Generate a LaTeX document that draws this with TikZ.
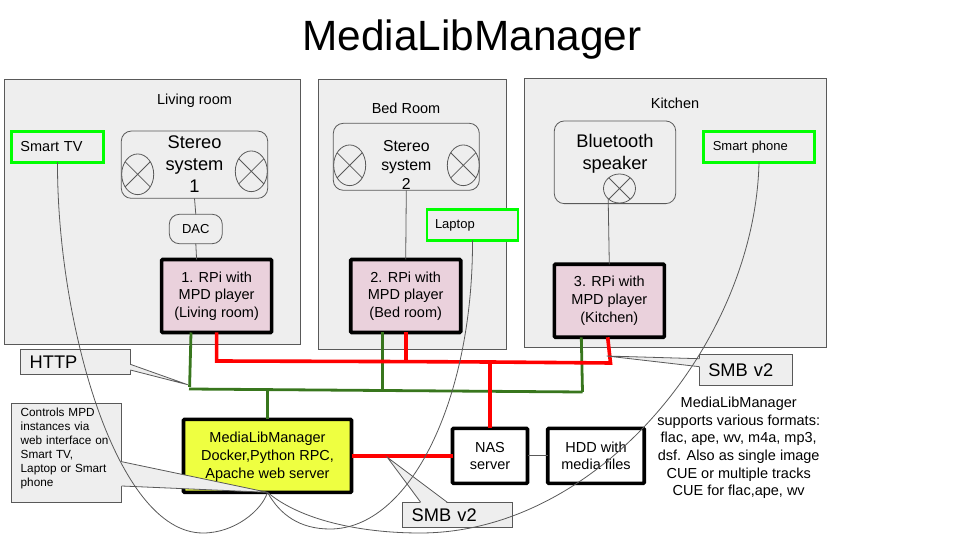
\documentclass[tikz,border=0pt]{standalone}
\usepackage{fontspec}
\setmainfont{Liberation Sans}
\usetikzlibrary{calc,shapes.geometric}
\definecolor{roomgray}{HTML}{EEEEEE}
\definecolor{edgegray}{HTML}{595959}
\definecolor{rpipink}{HTML}{EAD1DC}
\definecolor{mlyellow}{HTML}{EEFF41}
\definecolor{httpgreen}{HTML}{38761D}
\definecolor{devgreen}{HTML}{00FF00}
\def\px{0.02cm}
\begin{document}
\begin{tikzpicture}[x=0.02cm,y=-0.02cm,outer sep=0pt,
    boxsize/.style 2 args={minimum width=#1*\px,minimum height=#2*\px},
    textS/.style={font=\fontsize{6.7}{8}\selectfont},
    textM/.style={font=\fontsize{7.4}{9}\selectfont},
    textN/.style={font=\fontsize{8.25}{10}\selectfont},
    textP/.style={font=\fontsize{9}{10.8}\selectfont},
    textL/.style={font=\fontsize{10.4}{12.5}\selectfont},
    room/.style={draw=edgegray,fill=roomgray,line width=1*\px,inner sep=0pt},
    player/.style={draw=black,fill=rpipink,line width=3.6*\px,rounded corners=0.6pt,align=center,textN,inner sep=0pt},
    rounded/.style={draw=edgegray,line width=0.8*\px,rounded corners=10*\px,inner sep=0pt,align=center},
    speaker/.style={draw=edgegray,ellipse,line width=0.8*\px,inner sep=0pt},
    device/.style={draw=devgreen,fill=roomgray,line width=2.8*\px,inner ysep=0pt,inner xsep=9*\px,align=left},
    callbox/.style={draw=edgegray,fill=roomgray,line width=0.9*\px,inner ysep=0pt,inner xsep=9*\px,align=left},
    wire/.style={draw=edgegray,line width=0.8*\px},
    httpline/.style={draw=httpgreen,line width=2.8*\px},
    smbline/.style={draw=red,line width=3.6*\px}]
    \useasboundingbox (0,0) rectangle (960,540);
    \node[font=\fontsize{24.1}{28}\selectfont] (title) at (472,40) {MediaLibManager};

    \node[room,boxsize={296}{265}] (roomA) at (152.3,211.8) {};
    \node[room,boxsize={188}{270}] (roomB) at (412.3,214.3) {};
    \node[room,boxsize={302}{269}] (roomC) at (675.3,212.8) {};
    \node[textN] (roomAname) at (194.5,100.5) {Living room};
    \node[textN] (roomBname) at (406,108) {Bed Room};
    \node[textN] (roomCname) at (675,103) {Kitchen};

    \node[rounded,boxsize={146.4}{67.3}] (stereoA) at (194.5,164.7) {};
    \node[textL,align=center] (stereoAname) at (194.5,163.7) {Stereo\\system\\1};
    \node[rounded,boxsize={146}{67}] (stereoB) at (406.3,156.8) {};
    \node[textP,align=center] (stereoBname) at (406.3,165) {Stereo\\system\\2};
    \node[rounded,boxsize={121.4}{82.7}] (btspeaker) at (615,162.3) {};
    \node[textL,align=center] (btname) at (615,154) {Bluetooth\\speaker};
    \node[rounded,textM,boxsize={53}{29.4}] (dac) at (195.8,229) {DAC};

    \node[speaker,boxsize={32}{40.7}] (spkA) at (137.7,174.3) {};
    \node[speaker,boxsize={32}{40.7}] (spkB) at (251.3,171.3) {};
    \node[speaker,boxsize={32}{40.7}] (spkC) at (349.7,165.3) {};
    \node[speaker,boxsize={32}{40.7}] (spkD) at (463.3,165.3) {};
    \node[speaker,boxsize={32}{29}] (spkE) at (619.5,188.5) {};
    \foreach \n in {spkA,spkB,spkC,spkD,spkE}
        \draw[wire] (\n.45) -- (\n.225) (\n.135) -- (\n.315);

    \node[player,boxsize={110}{73}] (rpiA) at (216.6,296) {1. RPi with\\MPD player\\(Living room)};
    \node[player,boxsize={110}{73}] (rpiB) at (405.7,296) {2. RPi with\\MPD player\\(Bed room)};
    \node[player,boxsize={110}{73}] (rpiC) at (609.3,300.8) {3. RPi with\\MPD player\\(Kitchen)};
    \node[player,fill=mlyellow,boxsize={168}{73}] (mlib) at (267.5,455.8) {};
    \node[textN,align=center] (mlibname) at (267.5,456.8) {MediaLibManager\\Docker,Python RPC,\\Apache web server};
    \node[player,fill=white,boxsize={75}{55}] (nas) at (490,455.8) {NAS\\server};
    \node[player,fill=white,boxsize={96.5}{55}] (hdd) at (596,455.8) {HDD with\\media files};

    \node[device,textN,boxsize={92}{31},text width=74*\px] (tv) at (57.5,147) {Smart TV};
    \node[device,inner xsep=8*\px,textM,boxsize={91}{31},text width=75*\px] (laptop) at (472.5,225) {\raisebox{-0.5pt}{Laptop}};
    \node[device,textM,boxsize={110.5}{31},text width=92.5*\px] (phone) at (759,147) {Smart phone};

    \draw[wire] (stereoA.south) -- (dac.north);
    \draw[wire] (dac.south) -- ($(rpiA.north)+(-20,0)$);
    \draw[wire] (stereoB.south) -- (rpiB.north);
    \draw[wire] (spkE.south west) -- (rpiC.north);
    \draw[wire] (nas.east) -- (hdd.west);

    \coordinate (httpL) at (189,389);
    \coordinate (httpM) at (267.5,389.6);
    \coordinate (httpN) at (382.3,390.5);
    \coordinate (httpR) at (582.5,392);
    \coordinate (smbL) at (216.6,361);
    \coordinate (smbN) at (405.7,361.6);
    \coordinate (smbM) at (490,362);
    \coordinate (smbR) at (610.5,363);
    \draw[httpline] ($(rpiA.south)+(-25.6,0)$) -- (189.6,387);
    \draw[httpline] (httpL) -- (httpN) -- (httpR);
    \draw[httpline] ($(rpiB.south)+(-23.4,0)$) -- (httpN);
    \draw[httpline] ($(rpiC.south)+(-28,0)$) -- (httpR);
    \draw[httpline] (mlib.north) -- (httpM);
    \draw[smbline] (rpiA.south) -- (smbL) -- (smbN) -- (smbM) -- (smbR) -- ($(rpiC.south)+(-1.6,0)$);
    \draw[smbline] (rpiB.south) -- (smbN);
    \draw[smbline] (nas.north) -- (smbM);
    \draw[smbline] (mlib.east) -- (nas.west);

    \node[callbox,font=\fontsize{10.4}{12.5}\selectfont,boxsize={109.6}{25},text width=91.6*\px] (httpBox) at (75.5,361.8) {HTTP};
    \node[callbox,boxsize={110}{99}] (ctrlBox) at (66.7,452.8) {};
    \node[callbox,font=\fontsize{10.4}{12.5}\selectfont,boxsize={109.6}{25},text width=91.6*\px] (smbLow) at (457.5,514.8) {\raisebox{-0.5pt}{SMB v2}};
    \node[callbox,font=\fontsize{10.4}{12.5}\selectfont,boxsize={93.4}{31},text width=75.4*\px] (smbUp) at (746,369.8) {SMB v2};
    \coordinate (httpTip) at (187.7,384.7);
    \coordinate (smbLowTip) at (387.3,457.3);
    \coordinate (smbUpTip) at (606.7,356);

    \fill[roomgray] ($(httpBox.north east)+(-1,15)$) -- (httpTip) -- ($(httpBox.north east)+(-1,20.7)$) -- cycle;
    \draw[wire] ($(httpBox.north east)+(0,15)$) -- (httpTip) -- ($(httpBox.north east)+(0,20.7)$);
    \fill[roomgray] ($(ctrlBox.north east)+(-1,58.4)$) -- (mlib.south) -- ($(ctrlBox.north east)+(-1,82.7)$) -- cycle;
    \draw[wire] ($(ctrlBox.north east)+(0,58.4)$) -- (mlib.south) -- ($(ctrlBox.north east)+(0,82.7)$);
    \fill[roomgray] ($(smbLow.north west)+(18,1)$) -- (smbLowTip) -- ($(smbLow.north west)+(44.6,1)$) -- cycle;
    \draw[wire] ($(smbLow.north west)+(18,0)$) -- (smbLowTip) -- ($(smbLow.north west)+(44.6,0)$);
    \fill[roomgray] ($(smbUp.north west)+(1,4.4)$) -- (smbUpTip) -- ($(smbUp.north west)+(1,12.4)$) -- cycle;
    \draw[wire] ($(smbUp.north west)+(0,4.4)$) -- (smbUpTip) -- ($(smbUp.north west)+(0,12.4)$);

    \node[textS,align=left,text width=92*\px,inner sep=0pt] (ctrlText) at (66.7,448.5) {Controls MPD\\instances via\\web interface on\\Smart TV,\\Laptop or Smart\\phone};
    \node[textN,align=center,inner sep=0pt] (formats) at (738.7,448) {MediaLibManager\\supports various formats:\\flac, ape, wv, m4a, mp3,\\dsf. Also as single image\\CUE or multiple tracks\\CUE for flac,ape, wv};

    \draw[wire] (tv.south) .. controls (57,320) and (115,533) .. (203,533)
        .. controls (235,533) and (262,510) .. (mlib.south);
    \draw[wire] (laptop.south) .. controls (473,400) and (410,529) .. (330,529)
        .. controls (300,529) and (280,515) .. (mlib.south);
    \draw[wire] (phone.south) .. controls (755,340) and (600,533) .. (420,533)
        .. controls (360,533) and (300,520) .. (mlib.south);
\end{tikzpicture}
\end{document}
